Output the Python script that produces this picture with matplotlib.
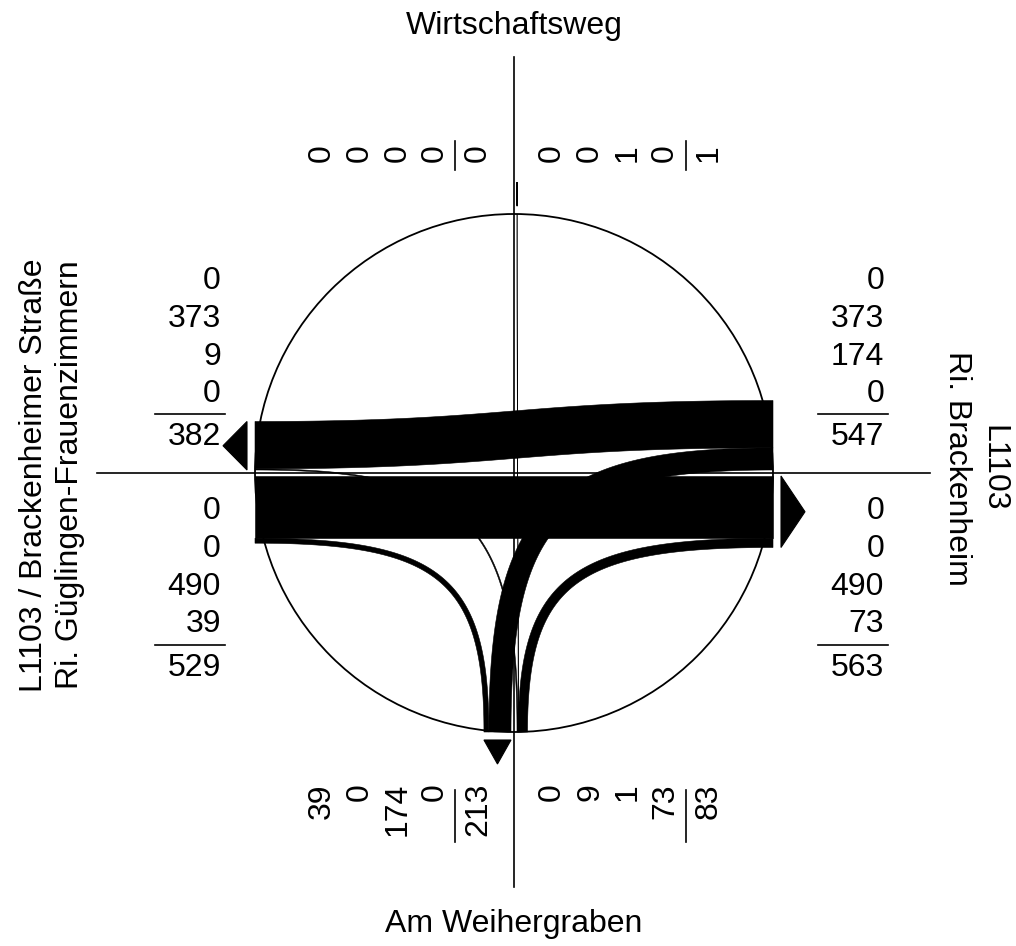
import numpy as np
import matplotlib
matplotlib.use('Agg')
import matplotlib.pyplot as plt
from matplotlib.patches import Polygon, Circle

plt.rcParams['font.family'] = ['Liberation Sans', 'DejaVu Sans']

# ---------------- data ----------------
north_name = "Wirtschaftsweg"
east_name = "L1103\nRi. Brackenheim"
south_name = "Am Weihergraben"
west_name = "L1103 / Brackenheimer Straße\nRi. Güglingen-Frauenzimmern"

# lane values as printed on each arm (in = entering, out = leaving)
north_in = [0, 0, 0, 0]
north_out = [0, 0, 1, 0]
east_in = [0, 373, 174, 0]
east_out = [0, 0, 490, 73]
south_in = [0, 9, 1, 73]
south_out = [39, 0, 174, 0]
west_in = [0, 0, 490, 39]
west_out = [0, 373, 9, 0]

# movements: (origin arm, lane in origin 'in' list, destination arm, lane in destination 'out' list)
flows = [
    ('W', 2, 'E', 2),
    ('W', 3, 'S', 0),
    ('E', 1, 'W', 1),
    ('E', 2, 'S', 2),
    ('S', 1, 'W', 2),
    ('S', 2, 'N', 2),
    ('S', 3, 'E', 3),
]

# ---------------- layout ----------------
W_PX, H_PX = 1016, 946
CX, CY = 514, 473
R = 259
SCALE = 0.127
GAP = 3.0
KCTRL = 0.8
ARR_OFF, ARR_DEPTH = 8, 24
NUM_FS = 23
LAB_FS = 23

fig = plt.figure(figsize=(W_PX / 100, H_PX / 100), dpi=100)
ax = fig.add_axes([0, 0, 1, 1])
ax.set_xlim(0, W_PX)
ax.set_ylim(H_PX, 0)
ax.set_aspect('equal')
ax.axis('off')

ins = {'N': north_in, 'E': east_in, 'S': south_in, 'W': west_in}
outs = {'N': north_out, 'E': east_out, 'S': south_out, 'W': west_out}
# inward unit direction per arm (screen coords, y down)
inward = {'N': np.array([0., 1.]), 'S': np.array([0., -1.]),
          'E': np.array([-1., 0.]), 'W': np.array([1., 0.])}
# which side the 'in' block lies: -1 = smaller coordinate side (top/left)
in_side = {'N': -1, 'E': -1, 'S': 1, 'W': 1}


def block_spans(vals, side, axis_val):
    widths = np.array(vals, dtype=float) * SCALE
    total = widths.sum()
    start = axis_val - GAP - total if side < 0 else axis_val + GAP
    cum = np.concatenate([[0], np.cumsum(widths)])
    return [(start + cum[i], start + cum[i + 1]) for i in range(len(vals))]


def lane_point(arm, kind, idx):
    axis_val = CY if arm in 'EW' else CX
    side = in_side[arm] if kind == 'in' else -in_side[arm]
    vals = ins[arm] if kind == 'in' else outs[arm]
    a, b = block_spans(vals, side, axis_val)[idx]
    c = (a + b) / 2
    end = np.array([CX, CY]) - inward[arm] * R
    if arm in 'EW':
        return np.array([end[0], c]), b - a
    return np.array([c, end[1]]), b - a


def bezier(P0, P1, P2, P3, t):
    t = t[:, None]
    B = (1 - t) ** 3 * P0 + 3 * (1 - t) ** 2 * t * P1 + 3 * (1 - t) * t ** 2 * P2 + t ** 3 * P3
    dB = 3 * (1 - t) ** 2 * (P1 - P0) + 6 * (1 - t) * t * (P2 - P1) + 3 * t ** 2 * (P3 - P2)
    return B, dB


# axes cross and circle
ax.plot([CX - 417, CX + 416], [CY, CY], color='black', lw=1.2, zorder=1)
ax.plot([CX, CX], [CY - 416, CY + 414], color='black', lw=1.2, zorder=1)
ax.add_patch(Circle((CX, CY), R, fill=False, ec='black', lw=1.3, zorder=1))

# flows
t = np.linspace(0, 1, 300)
for (o, oi, d, di) in flows:
    P0, w = lane_point(o, 'in', oi)
    P3, _ = lane_point(d, 'out', di)
    d0 = inward[o]
    d3 = -inward[d]
    if abs(np.cross(d0, d3)) < 1e-9:
        L = abs(np.dot(P3 - P0, d0))
        P1 = P0 + d0 * L / 2
        P2 = P3 - d3 * L / 2
    else:
        A = np.column_stack([d0, d3])
        s = np.linalg.solve(A, P3 - P0)
        C = P0 + d0 * s[0]
        P1 = P0 + KCTRL * (C - P0)
        P2 = P3 + KCTRL * (C - P3)
    B, dB = bezier(P0, P1, P2, P3, t)
    n = np.column_stack([-dB[:, 1], dB[:, 0]])
    n /= np.linalg.norm(n, axis=1)[:, None]
    e1 = B + n * w / 2
    e2 = B - n * w / 2
    poly = np.vstack([e1, e2[::-1]])
    ax.add_patch(Polygon(poly, closed=True, fc='black', ec='black', lw=0.4, zorder=3))

# arrows on leaving blocks
for arm in 'NESW':
    vals = outs[arm]
    if sum(vals) <= 0:
        continue
    axis_val = CY if arm in 'EW' else CX
    spans = block_spans(vals, -in_side[arm], axis_val)
    a, b = spans[0][0], spans[-1][1]
    out_dir = -inward[arm]
    base_r = R + ARR_OFF
    tip_r = base_r + ARR_DEPTH
    if arm in 'EW':
        bx = CX + out_dir[0] * base_r
        tx = CX + out_dir[0] * tip_r
        tri = [(bx, a), (bx, b), (tx, (a + b) / 2)]
    else:
        by = CY + out_dir[1] * base_r
        ty = CY + out_dir[1] * tip_r
        tri = [(a, by), (b, by), ((a + b) / 2, ty)]
    ax.add_patch(Polygon(tri, closed=True, fc='black', ec='black', lw=0.8, zorder=4))

# number blocks
ROW_OFF = [38, 76, 113.5, 151]
LINE_OFF = 172
TOT_OFF = 195


def fmt(v):
    return str(v)


def ew_block(vals, x_right, upper):
    total = sum(vals)
    if upper:
        rows = [CY - 230 + r for r in ROW_OFF]
        line_y = CY - 59
        tot_y = CY - 36
    else:
        rows = [CY + r for r in ROW_OFF]
        line_y = CY + LINE_OFF
        tot_y = CY + TOT_OFF
    for v, y in zip(vals, rows):
        ax.text(x_right, y, fmt(v), ha='right', va='center', fontsize=NUM_FS)
    ax.text(x_right, tot_y, fmt(total), ha='right', va='center', fontsize=NUM_FS)
    ax.plot([x_right - 66, x_right + 4], [line_y, line_y], color='black', lw=1.2)


def ns_block(vals, y_top, left, line_top, line_bot):
    total = sum(vals)
    if left:
        cols = [CX - 230 + r for r in ROW_OFF]
        line_x = CX - 59
        tot_x = CX - 36
    else:
        cols = [CX + r for r in ROW_OFF]
        line_x = CX + LINE_OFF
        tot_x = CX + TOT_OFF
    for v, x in zip(vals, cols):
        ax.text(x, y_top, fmt(v), ha='right', va='center', rotation=90,
                rotation_mode='anchor', fontsize=NUM_FS)
    ax.text(tot_x, y_top, fmt(total), ha='right', va='center', rotation=90,
            rotation_mode='anchor', fontsize=NUM_FS)
    ax.plot([line_x, line_x], [line_top, line_bot], color='black', lw=1.2)


ew_block(west_out, 221, True)
ew_block(west_in, 221, False)
ew_block(east_in, 884, True)
ew_block(east_out, 884, False)
ns_block(north_in, 144, True, 141, 170)
ns_block(north_out, 144, False, 141, 170)
ns_block(south_out, 783, True, 790, 842)
ns_block(south_in, 783, False, 790, 842)

# arm labels
ax.text(CX, 26, north_name, ha='center', va='center', fontsize=LAB_FS)
ax.text(CX, 924, south_name, ha='center', va='center', fontsize=LAB_FS)
ax.text(52, 475, west_name, ha='center', va='center', rotation=90,
        fontsize=LAB_FS, multialignment='center', linespacing=1.25)
ax.text(975, 468, east_name, ha='center', va='center', rotation=270,
        fontsize=LAB_FS, multialignment='center', linespacing=1.25)

fig.savefig('out.png', dpi=100, facecolor='white')
